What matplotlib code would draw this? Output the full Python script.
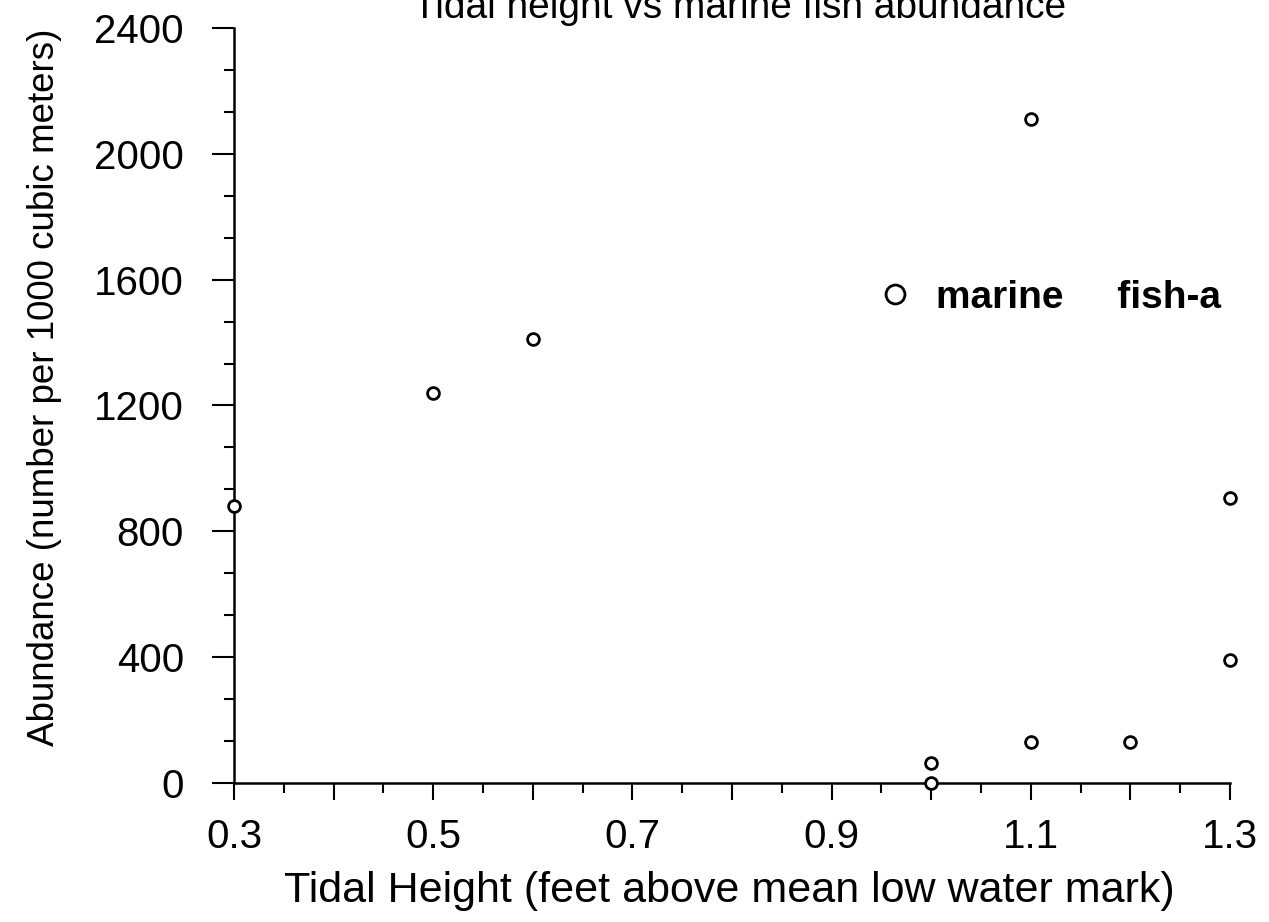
import matplotlib
matplotlib.use('Agg')
import matplotlib.pyplot as plt
import numpy as np

plt.rcParams['font.family'] = ['Liberation Sans', 'DejaVu Sans']

# tidal height (ft) and abundance
tidal_height = [0.3, 0.5, 0.6, 1.0, 1.0, 1.1, 1.1, 1.2, 1.3, 1.3]
abundance = [880, 1240, 1410, 65, 0, 2110, 130, 130, 905, 390]

x_ticks = [0.3, 0.4, 0.5, 0.6, 0.7, 0.8, 0.9, 1.0, 1.1, 1.2, 1.3]
x_tick_labels = ['0.3', '', '0.5', '', '0.7', '', '0.9', '', '1.1', '', '1.3']
y_ticks = [0, 400, 800, 1200, 1600, 2000, 2400]

fig = plt.figure(figsize=(12.69, 9.22), dpi=100)
ax = fig.add_axes([0.1844, 0.1508, 0.7849, 0.8188])

ax.plot(tidal_height, abundance, 'o', ms=8.5, mfc='white', mec='black',
        mew=2.0, clip_on=False, label='marine     fish-a', zorder=3)

ax.set_xlim(0.3, 1.3)
ax.set_ylim(0, 2400)

ax.set_xticks(x_ticks)
ax.set_xticklabels(x_tick_labels)
ax.set_xticks(np.arange(0.35, 1.3, 0.1), minor=True)
ax.set_yticks(y_ticks)
ax.set_yticks(np.arange(0, 2401, 400 / 3), minor=True)

for s in ['top', 'right']:
    ax.spines[s].set_visible(False)
for s in ['left', 'bottom']:
    ax.spines[s].set_linewidth(1.8)

ax.tick_params(axis='x', which='major', length=12, width=1.5, pad=13, labelsize=29)
ax.tick_params(axis='x', which='minor', length=7, width=1.5)
ax.tick_params(axis='y', which='major', length=16, width=1.5, pad=20, labelsize=29)
ax.tick_params(axis='y', which='minor', length=7, width=1.5)

ax.set_xlabel('Tidal Height (feet above mean low water mark)', fontsize=31)
ax.xaxis.set_label_coords(0.497, -0.117)
ax.set_ylabel('Abundance (number per 1000 cubic meters)', fontsize=26.5)
ax.yaxis.set_label_coords(-0.1727, 0.5245)

fig.text(0.583, 0.9805, 'Tidal height vs marine fish abundance',
         ha='center', va='baseline', fontsize=28)

ax.legend(loc='center left', bbox_to_anchor=(0.6446, 0.6424), frameon=False,
          borderpad=0, borderaxespad=0, handlelength=1, handletextpad=0.55,
          markerscale=1.6, prop={'weight': 'bold', 'size': 28})

fig.savefig('out.png', dpi=100)
